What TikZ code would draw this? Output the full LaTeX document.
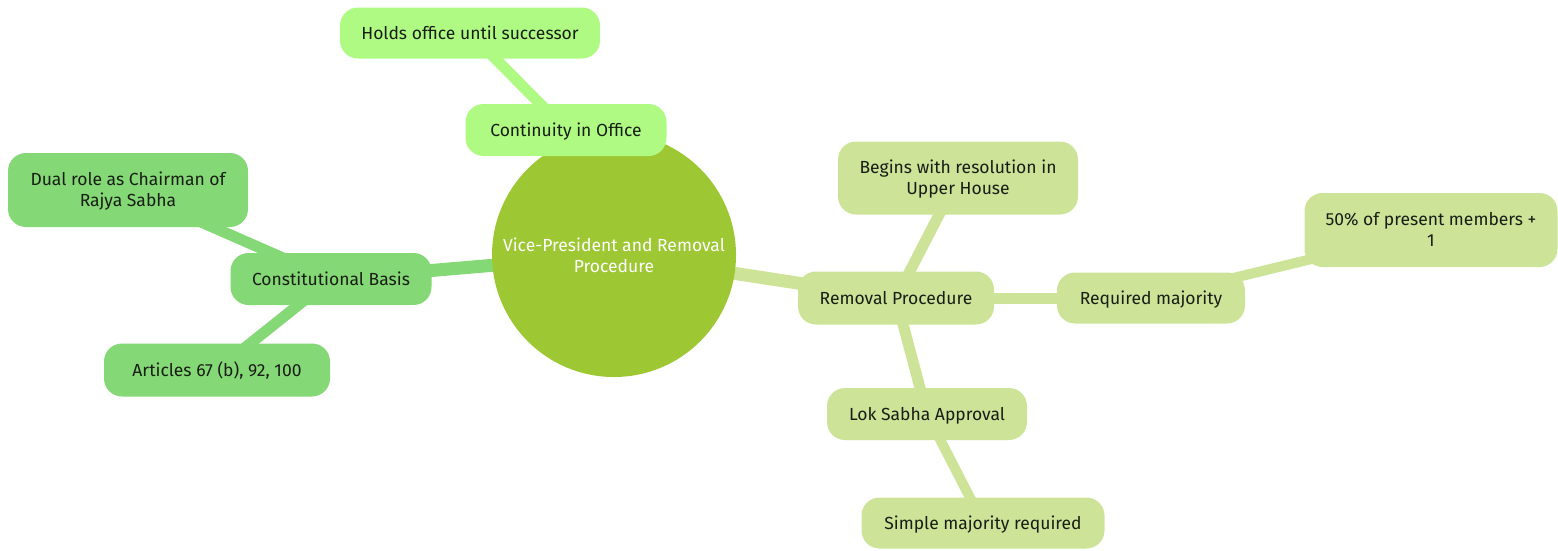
\documentclass[tikz,border=0pt]{standalone}
\usepackage{fontspec}
\setmainfont{Fira Sans}
\usetikzlibrary{backgrounds}
\definecolor{cbright}{RGB}{174,250,130}
\definecolor{ccenter}{RGB}{157,200,52}
\definecolor{cconst}{RGB}{132,216,117}
\definecolor{cremov}{RGB}{205,227,152}
\definecolor{ctext}{RGB}{25,30,20}
\tikzset{
  box/.style={rounded corners=18pt, inner sep=0pt, align=center, text=ctext,
    font=\fontsize{17.5}{21}\selectfont, text depth=1pt},
  brightbox/.style={box, fill=cbright},
  constbox/.style={box, fill=cconst},
  remobox/.style={box, fill=cremov},
  centre/.style={circle, fill=ccenter, minimum size=244pt, inner sep=0pt, align=center,
    text=white, font=\fontsize{17.5}{21}\selectfont},
  link/.style={line width=#1, line cap=round},
}
\begin{document}
\begin{tikzpicture}[x=1pt,y=-1pt]
\useasboundingbox (0,0) rectangle (1558,550);
\node[centre] (c) at (614,255) {Vice-President and Removal\\Procedure};
\node[brightbox, minimum width=260pt, minimum height=51pt] (holds) at (470,33) {Holds office until successor};
\node[brightbox, minimum width=201pt, minimum height=52pt] (cont) at (566,130) {Continuity in Office};
\node[constbox, minimum width=201pt, minimum height=52pt] (cb) at (331,279) {Constitutional Basis};
\node[constbox, minimum width=240pt, minimum height=74pt] (dual) at (128,190) {Dual role as Chairman of\\Rajya Sabha};
\node[constbox, minimum width=226pt, minimum height=53pt] (art) at (217,370) {Articles 67 (b), 92, 100};
\node[remobox, minimum width=196pt, minimum height=53pt] (rp) at (896,298) {Removal Procedure};
\node[remobox, minimum width=240pt, minimum height=73pt] (beg) at (958,178) {Begins with resolution in\\Upper House};
\node[remobox, minimum width=188pt, minimum height=51pt] (req) at (1151,298) {Required majority};
\node[remobox, minimum width=253pt, minimum height=74pt] (fifty) at (1431,230) {50\% of present members +\\1};
\node[remobox, minimum width=200pt, minimum height=52pt] (lok) at (927,414) {Lok Sabha Approval};
\node[remobox, minimum width=243pt, minimum height=51pt] (simple) at (983,523) {Simple majority required};
\begin{pgfonlayer}{background}
\draw[link=13pt, cbright] (c.center) -- (cont.center);
\draw[link=11pt, cbright] (cont.center) -- (holds.center);
\draw[link=13pt, cconst] (c.center) -- (cb.center);
\draw[link=11pt, cconst] (cb.center) -- (dual.center);
\draw[link=11pt, cconst] (cb.center) -- (art.center);
\draw[link=13pt, cremov] (c.center) -- (rp.center);
\draw[link=11pt, cremov] (rp.center) -- (beg.center);
\draw[link=11pt, cremov] (rp.center) -- (req.center);
\draw[link=10pt, cremov] (req.center) -- (fifty.center);
\draw[link=11pt, cremov] (rp.center) -- (lok.center);
\draw[link=10pt, cremov] (lok.center) -- (simple.center);
\end{pgfonlayer}
\end{tikzpicture}
\end{document}
